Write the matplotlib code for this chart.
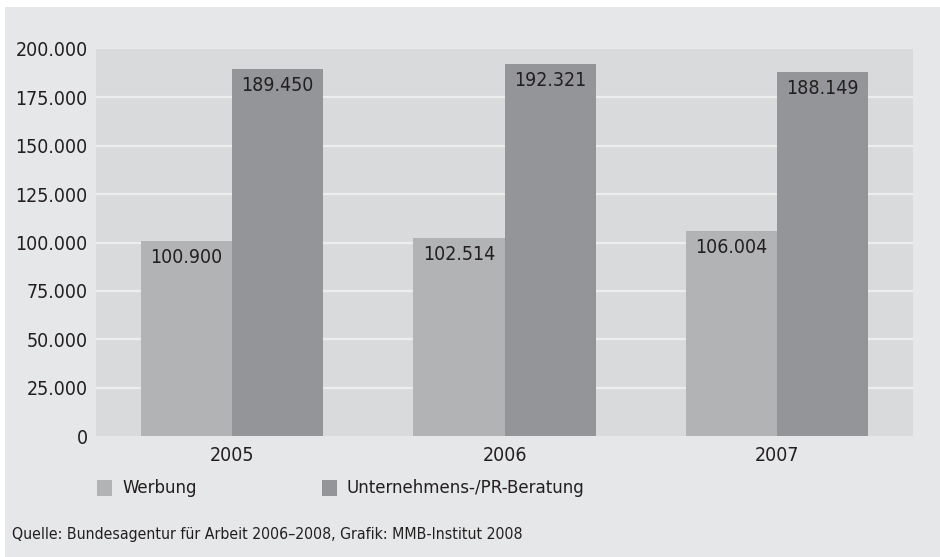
import matplotlib
matplotlib.use("Agg")
import matplotlib.pyplot as plt
from matplotlib.patches import Rectangle
import numpy as np

years = ["2005", "2006", "2007"]
werbung = [100900, 102514, 106004]
beratung = [189450, 192321, 188149]
series_names = ["Werbung", "Unternehmens-/PR-Beratung"]
yticks = [0, 25000, 50000, 75000, 100000, 125000, 150000, 175000, 200000]
source = "Quelle: Bundesagentur für Arbeit 2006–2008, Grafik: MMB-Institut 2008"

plt.rcParams["font.family"] = ["DejaVu Sans"]
plt.rcParams["font.stretch"] = "condensed"
TXT = "#231f20"
OUTER = "#e6e7e8"
INNER = "#d9dadb"
C1 = "#b2b3b5"
C2 = "#939598"

W, H = 940, 557
fig = plt.figure(figsize=(W / 100, H / 100), dpi=100)
fig.patch.set_facecolor(OUTER)
# white margins at top and left
fig.patches.append(Rectangle((0, (H - 7) / H), 1, 7 / H, transform=fig.transFigure,
                             facecolor="white", edgecolor="none", zorder=-5))
fig.patches.append(Rectangle((0, 0), 5 / W, 1, transform=fig.transFigure,
                             facecolor="white", edgecolor="none", zorder=-5))

ax = fig.add_axes([96 / W, (H - 436) / H, (913 - 96) / W, (436 - 49) / H])
ax.set_facecolor(INNER)
x = np.arange(len(years))
bw = 0.335
b1 = ax.bar(x - bw / 2, werbung, bw, color=C1, zorder=3)
b2 = ax.bar(x + bw / 2, beratung, bw, color=C2, zorder=3)
ax.set_xlim(-0.5, 2.5)
ax.set_ylim(0, 200000)
ax.set_yticks(yticks)
ax.set_yticklabels([f"{v:,}".replace(",", ".") for v in yticks])
ax.set_xticks(x)
ax.set_xticklabels(years)
for t in ax.get_yticklabels() + ax.get_xticklabels():
    t.set_fontsize(14)
    t.set_color(TXT)
ax.tick_params(axis="both", length=0)
ax.tick_params(axis="y", pad=6)
ax.tick_params(axis="x", pad=7)
for s in ax.spines.values():
    s.set_visible(False)
for v in yticks[1:-1]:
    ax.axhline(v, color="#ededee", lw=1.6, zorder=1)

for bars, vals in ((b1, werbung), (b2, beratung)):
    for b, v in zip(bars, vals):
        ax.annotate(f"{v:,}".replace(",", "."), (b.get_x() + b.get_width() / 2, v),
                    xytext=(0, -5), textcoords="offset points", ha="center", va="top",
                    fontsize=14, color=TXT, zorder=5)

# legend
for (xs, name, c) in ((97, series_names[0], C1), (322, series_names[1], C2)):
    fig.patches.append(Rectangle((xs / W, (H - 496) / H), 15 / W, 16 / H,
                                 transform=fig.transFigure, facecolor=c, edgecolor="none"))
    fig.text((xs + 25) / W, (H - 488) / H, name, fontsize=13.3, color=TXT, va="center", ha="left")

fig.text(12 / W, (H - 534) / H, source, fontsize=11.3, color=TXT, va="center", ha="left")

fig.savefig("out.png", dpi=100, facecolor=fig.get_facecolor())
